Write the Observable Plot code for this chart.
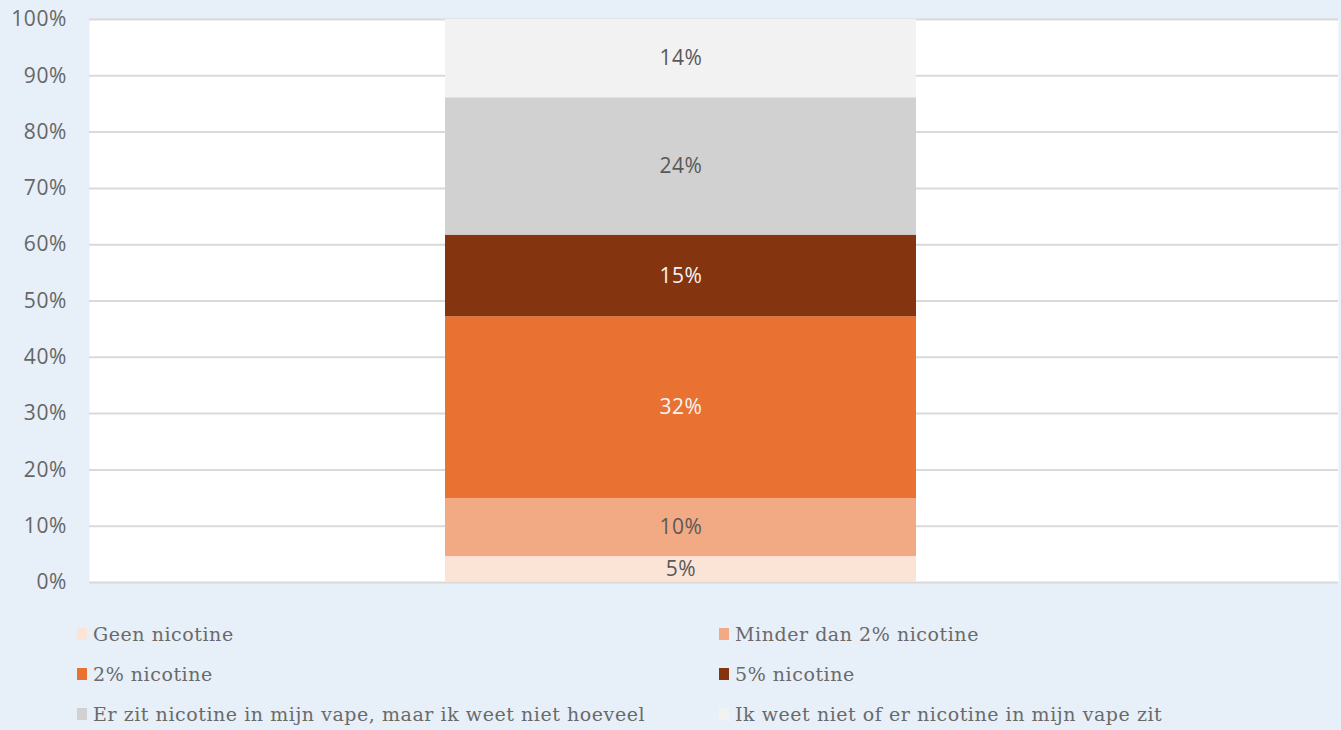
<!DOCTYPE html>
<html>
<head>
<meta charset="utf-8">
<script src="https://cdn.jsdelivr.net/npm/d3@7"></script>
<script src="https://cdn.jsdelivr.net/npm/@observablehq/plot@0.6"></script>
<style>
  html, body { margin: 0; padding: 0; background: #e7eff8; width: 1341px; height: 730px; overflow: hidden; }
  #chart svg { display: block; }
  #legend { display: grid; grid-template-columns: 642px 600px; padding-left: 77px; padding-top: 14px; row-gap: 0; }
  .item { display: flex; align-items: center; height: 40px; font-family: "DejaVu Serif", serif; font-size: 19px; letter-spacing: 0.55px; color: #6a6a6a; }
  .sw { width: 10px; height: 12px; margin-right: 6px; flex: none; }
</style>
</head>
<body>
<div id="chart"></div>
<div id="legend"></div>
<script>
const categories = ["Geen nicotine", "Minder dan 2% nicotine", "2% nicotine", "5% nicotine", "Er zit nicotine in mijn vape, maar ik weet niet hoeveel", "Ik weet niet of er nicotine in mijn vape zit"];
const values = [4.6, 10.3, 32.3, 14.5, 24.4, 13.9];
const labels = ["5%", "10%", "32%", "15%", "24%", "14%"];
const colors = ["#fbe3d6", "#f2aa84", "#e97132", "#84340e", "#d1d1d1", "#f2f2f2"];
const labelColors = ["#595959", "#595959", "#f5f5f5", "#f5f5f5", "#595959", "#595959"];
const yTicks = [0, 10, 20, 30, 40, 50, 60, 70, 80, 90, 100];
const group = "Totaal";

const data = categories.map((c, i) => ({group, cat: c, value: values[i], label: labels[i], lc: labelColors[i]}));

const plot = Plot.plot({
  width: 1341,
  height: 600,
  marginLeft: 89,
  marginRight: 3,
  marginTop: 19,
  marginBottom: 18,
  style: {background: "transparent", fontFamily: "'Open Sans', sans-serif", letterSpacing: "0.6px"},
  x: {domain: [group], range: [89, 1273], paddingInner: 0.43, paddingOuter: 0.43, axis: null},
  y: {domain: [0, 100], axis: null},
  color: {domain: categories, range: colors},
  marks: [
    Plot.frame({fill: "white", stroke: null}),
    Plot.ruleY(yTicks, {stroke: "#d9d9d9", strokeWidth: 2}),
    Plot.barY(data, Plot.stackY({x: "group", y: "value", fill: "cat", order: null})),
    Plot.text(data, Plot.stackY({x: "group", y: "value", text: "label", fill: "lc", order: null, fontSize: 21})),
    Plot.text(yTicks, {x: () => group, y: d => d, text: d => d + "%", frameAnchor: "left", dx: -614, textAnchor: "end", fill: "#666", fontSize: 21})
  ]
});
document.getElementById("chart").appendChild(plot);

const legend = document.getElementById("legend");
categories.forEach((c, i) => {
  const it = document.createElement("div");
  it.className = "item";
  const sw = document.createElement("span");
  sw.className = "sw";
  sw.style.background = colors[i];
  it.appendChild(sw);
  const t = document.createElement("span");
  t.textContent = c;
  it.appendChild(t);
  legend.appendChild(it);
});
</script>
</body>
</html>
